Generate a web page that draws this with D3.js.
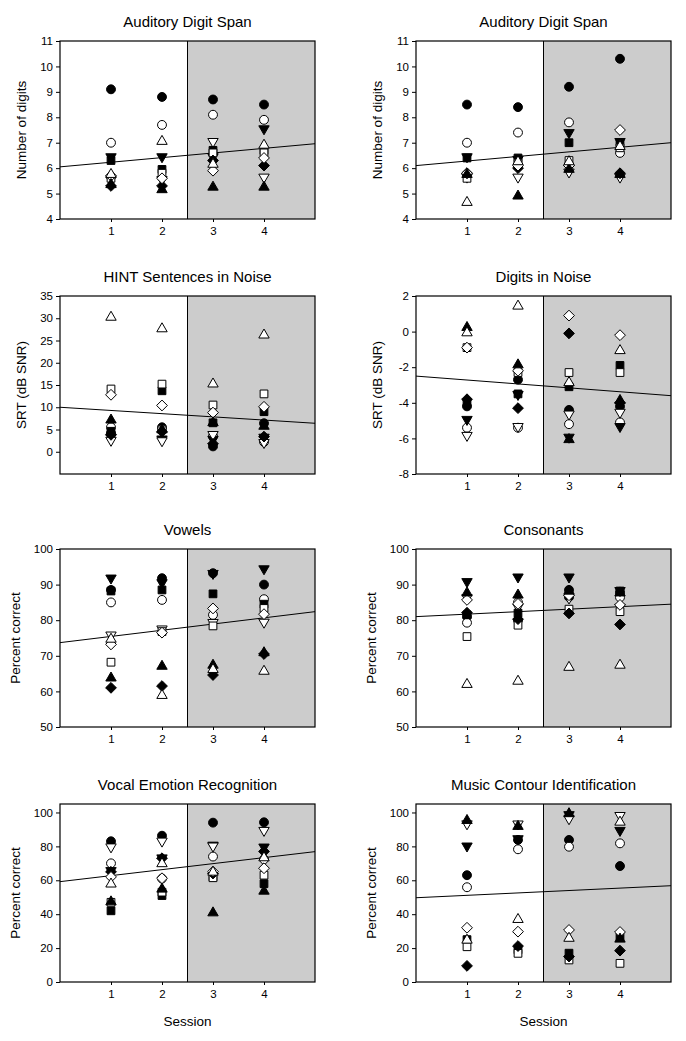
<!DOCTYPE html>
<html><head><meta charset="utf-8">
<script src="https://cdn.jsdelivr.net/npm/d3@7"></script>
<style>
body{margin:0;background:#fff}
svg{display:block}
text{font-family:"Liberation Sans",Arial,sans-serif;fill:#000}
</style>
</head><body>
<svg id="chart" width="686" height="1041"></svg>
<script>
// ---------------- data ----------------
const sessions = [1, 2, 3, 4];
const subjects = ["filledCircle","openCircle","filledDown","openDown","filledSquare","openSquare","filledDiamond","openDiamond","filledUp","openUp"];

const panelTitles = ["Auditory Digit Span","Auditory Digit Span","HINT Sentences in Noise","Digits in Noise","Vowels","Consonants","Vocal Emotion Recognition","Music Contour Identification"];
const yAxisTitles = ["Number of digits","Number of digits","SRT (dB SNR)","SRT (dB SNR)","Percent correct","Percent correct","Percent correct","Percent correct"];
const yDomains = [[4,11],[4,11],[-5,35],[-8,2],[50,100],[50,100],[0,105],[0,105]];
const yTickValues = [
  [4,5,6,7,8,9,10,11],[4,5,6,7,8,9,10,11],
  [0,5,10,15,20,25,30,35],[-8,-6,-4,-2,0,2],
  [50,60,70,80,90,100],[50,60,70,80,90,100],
  [0,20,40,60,80,100],[0,20,40,60,80,100]
];
const xTickLabels = ["1","2","3","4"];
const xAxisTitle = "Session";
// regression line: value at session 0 and at session 5
const fitLines = [[6.05,6.96],[6.1,7.0],[10.0,6.4],[-2.5,-3.6],[73.7,82.4],[81.0,84.5],[59.2,76.9],[49.7,56.8]];

// rows = subjects (order as in `subjects`), columns = sessions 1..4
const digitSpanA = [
  [9.1,8.8,8.7,8.5],[7.0,7.7,8.1,7.9],[6.4,6.4,6.4,7.5],[5.5,5.5,7.0,5.6],[6.3,5.95,6.7,6.7],
  [5.6,5.8,6.6,6.6],[5.3,5.3,6.3,6.1],[5.7,5.6,5.9,6.4],[5.4,5.2,5.3,5.3],[5.8,7.1,6.2,6.95]
];
const digitSpanB = [
  [8.5,8.4,9.2,10.3],[7.0,7.4,7.8,6.6],[6.4,6.3,7.35,7.0],[5.6,5.6,5.8,5.6],[6.4,6.4,7.0,7.0],
  [5.6,6.2,6.3,6.8],[5.8,6.0,6.1,5.8],[5.8,6.1,6.1,7.5],[5.8,4.95,6.0,5.8],[4.7,6.3,6.3,6.9]
];
const hintSentences = [
  [4.2,5.5,1.2,6.4],[5.5,5.0,3.5,2.2],[3.0,2.6,2.5,3.0],[2.3,2.2,3.6,1.8],[4.6,13.7,6.5,9.0],
  [14.1,15.2,10.5,13.0],[3.8,4.5,1.8,3.4],[12.8,10.4,8.8,10.1],[7.4,5.2,6.8,6.0],[30.5,27.9,15.5,26.5]
];
const digitsInNoise = [
  [-4.2,-2.7,-4.4,-4.2],[-5.4,-5.4,-5.2,-5.1],[-5.0,-3.6,-6.0,-5.4],[-5.9,-5.4,-4.7,-4.6],[-4.0,-3.5,-3.1,-1.9],
  [-0.9,-2.3,-2.3,-2.3],[-3.8,-4.3,-0.1,-4.0],[-0.9,-2.2,0.9,-0.2],[0.3,-1.8,-6.0,-3.8],[0.0,1.5,-2.8,-1.0]
];
const vowels = [
  [88.5,91.8,93.2,90.0],[85.0,85.7,81.5,85.9],[91.5,90.2,92.8,94.1],[75.5,77.2,79.0,79.1],[88.2,88.5,87.4,84.5],
  [68.2,76.8,78.4,83.3],[61.0,61.5,64.6,70.5],[73.2,76.5,83.3,81.7],[64.1,67.4,67.7,71.2],[75.0,59.2,66.5,66.0]
];
const consonants = [
  [81.0,80.0,88.5,87.8],[79.3,85.0,86.5,86.4],[90.5,91.8,91.8,88.0],[86.0,83.4,85.9,83.3],[81.5,82.0,87.0,88.2],
  [75.4,78.6,83.1,82.4],[82.1,80.3,81.9,78.8],[85.7,84.6,87.0,84.3],[88.0,87.4,88.5,88.0],[62.3,63.2,67.1,67.7]
];
const vocalEmotion = [
  [83.0,86.3,94.0,94.2],[70.0,61.0,74.0,72.4],[65.0,72.5,80.0,78.9],[79.0,82.4,79.5,88.7],[42.0,51.0,62.0,58.0],
  [47.0,53.0,61.5,63.0],[65.0,73.0,64.0,77.0],[62.0,61.2,65.1,67.1],[48.0,55.5,41.5,54.3],[58.5,70.5,65.5,74.0]
];
const musicContour = [
  [63.0,83.8,83.8,68.4],[55.9,78.3,79.8,81.8],[79.5,83.8,98.0,88.7],[92.6,92.5,95.6,97.5],[25.0,19.0,17.0,26.8],
  [20.8,16.9,13.0,11.0],[9.5,21.2,15.0,18.5],[32.0,29.7,30.7,29.5],[96.0,92.5,100.0,26.0],[25.4,37.6,26.5,95.0]
];
const panelData = [digitSpanA, digitSpanB, hintSentences, digitsInNoise, vowels, consonants, vocalEmotion, musicContour];

// ---------------- layout ----------------
const colX = [60, 416];
const rowY = [41, 296, 549, 804];
const plotW = 255, plotH = 178;
const shadeStart = 2.5;

const svg = d3.select("#chart");

function symbolPath(kind) {
  if (kind.endsWith("Circle")) return d3.symbol(d3.symbolCircle, 62)();
  if (kind.endsWith("Square")) return d3.symbol(d3.symbolSquare, 60)();
  if (kind.endsWith("Diamond")) return "M0,-5.4L5.4,0L0,5.4L-5.4,0Z";
  if (kind.endsWith("Up")) return "M0,-4.8L5.2,4.2L-5.2,4.2Z";
  if (kind.endsWith("Down")) return "M0,4.8L5.2,-4.2L-5.2,-4.2Z";
}

panelData.forEach((data, i) => {
  const col = i % 2, row = Math.floor(i / 2);
  const g = svg.append("g").attr("transform", `translate(${colX[col]},${rowY[row]})`);
  const x = d3.scaleLinear().domain([0, 5]).range([0, plotW]);
  const y = d3.scaleLinear().domain(yDomains[i]).range([plotH, 0]);

  // shaded region
  g.append("rect").attr("x", x(shadeStart)).attr("y", 0)
    .attr("width", x(5) - x(shadeStart)).attr("height", plotH)
    .attr("fill", "#cccccc");
  g.append("line").attr("x1", x(shadeStart)).attr("x2", x(shadeStart))
    .attr("y1", 0).attr("y2", plotH).attr("stroke", "#000").attr("stroke-width", 1);

  // regression line
  g.append("line")
    .attr("x1", x(0)).attr("y1", y(fitLines[i][0]))
    .attr("x2", x(5)).attr("y2", y(fitLines[i][1]))
    .attr("stroke", "#000").attr("stroke-width", 1);

  // frame
  g.append("rect").attr("x", 0).attr("y", 0).attr("width", plotW).attr("height", plotH)
    .attr("fill", "none").attr("stroke", "#000").attr("stroke-width", 1.2);

  // axes
  const ya = g.append("g").call(d3.axisLeft(y).tickValues(yTickValues[i]).tickFormat(d => String(d)).tickSize(4).tickPadding(3));
  ya.select(".domain").remove();
  ya.selectAll("text").style("font-size", "11.5px").style("font-family", '"Liberation Sans",Arial,sans-serif');
  const xa = g.append("g").attr("transform", `translate(0,${plotH})`)
    .call(d3.axisBottom(x).tickValues(sessions).tickFormat((d, k) => xTickLabels[k]).tickSize(3).tickPadding(5));
  xa.select(".domain").remove();
  xa.selectAll("text").style("font-size", "11.5px").style("font-family", '"Liberation Sans",Arial,sans-serif');

  // points
  const pts = [];
  subjects.forEach((s, si) => data[si].forEach((v, k) => { if (v != null) pts.push({s, v, sess: sessions[k]}); }));
  g.selectAll("path.pt").data(pts).join("path")
    .attr("class", "pt")
    .attr("d", d => symbolPath(d.s))
    .attr("transform", d => `translate(${x(d.sess)},${y(d.v)})`)
    .attr("fill", d => d.s.startsWith("filled") ? "#000" : "#fff")
    .attr("stroke", "#000").attr("stroke-width", 1);

  // title
  g.append("text").attr("x", plotW / 2).attr("y", -14).attr("text-anchor", "middle")
    .style("font-size", "15px").text(panelTitles[i]);

  // y axis title
  const off = row >= 2 ? 40 : 34;
  g.append("text").attr("transform", `translate(${-off},${plotH / 2}) rotate(-90)`)
    .attr("text-anchor", "middle").style("font-size", "13.5px").text(yAxisTitles[i]);

  if (row === 3) {
    g.append("text").attr("x", plotW / 2).attr("y", plotH + 44).attr("text-anchor", "middle")
      .style("font-size", "13.5px").text(xAxisTitle);
  }
});
</script>
</body></html>
